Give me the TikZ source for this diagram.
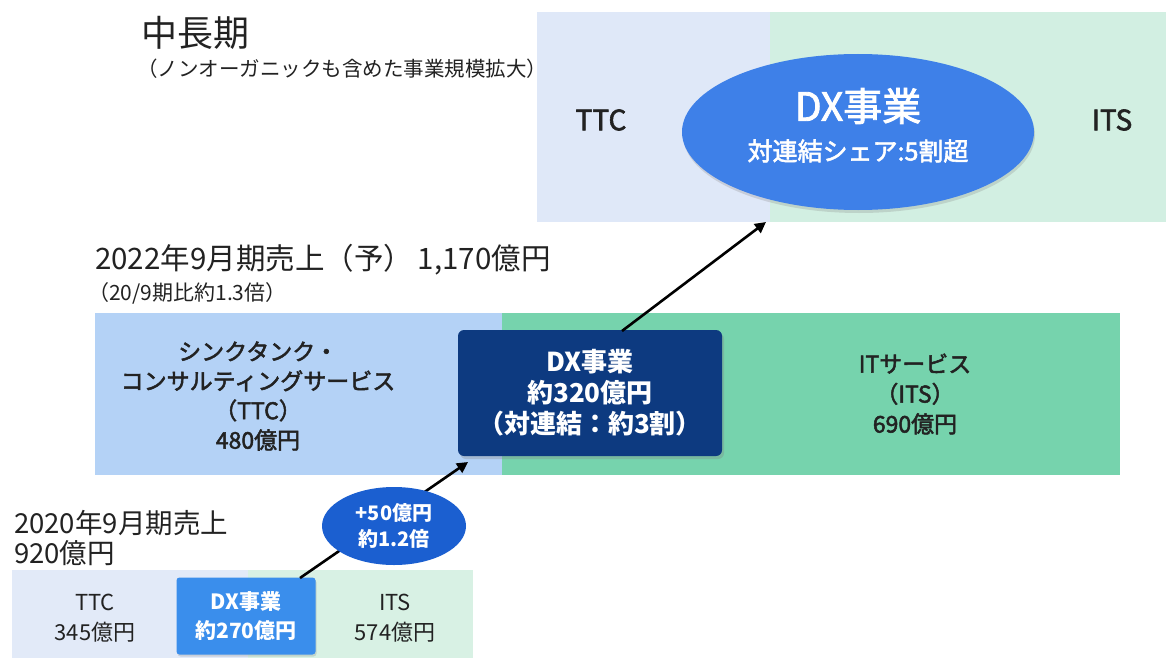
\documentclass[tikz,border=0pt]{standalone}
\usepackage{fontspec}
\setmainfont{Noto Sans CJK JP}
\newfontfamily\medfont[FakeBold=2.2]{Noto Sans CJK JP}
\usetikzlibrary{arrows.meta,shapes.geometric,shadows}
\definecolor{topblue}{HTML}{DFE8F8}
\definecolor{topgreen}{HTML}{D2EFE2}
\definecolor{topell}{HTML}{3E80E8}
\definecolor{midblue}{HTML}{B4D2F6}
\definecolor{midgreen}{HTML}{76D3AD}
\definecolor{midnavy}{HTML}{0D3A80}
\definecolor{botblue}{HTML}{E2EAF8}
\definecolor{botgreen}{HTML}{D8F1E4}
\definecolor{botdx}{HTML}{3A8EEC}
\definecolor{smallell}{HTML}{1B5FD0}
\definecolor{txt}{HTML}{222222}
\tikzset{
  x=1pt, y=-1pt,
  band/.style={inner sep=0pt, outer sep=0pt, anchor=north west},
  lbl/.style={text=txt, inner sep=0pt, anchor=north west, align=left},
  ctr/.style={text=txt, inner sep=0pt, align=center},
  arr/.style={line width=2.6pt, draw=black, -{Triangle[length=11pt,width=11pt]}},
}
\begin{document}
\begin{tikzpicture}
\useasboundingbox (0,0) rectangle (1166,658);
\fill[white] (0,0) rectangle (1166,658);
% top block
\node[band, fill=topblue, minimum width=233pt, minimum height=210pt] (topL) at (537,12) {};
\node[band, fill=topgreen, minimum width=396pt, minimum height=210pt] (topR) at (770,12) {};
\node[ellipse, fill=topell, minimum width=352pt, minimum height=156pt, inner sep=0pt,
      drop shadow={opacity=0.25, shadow xshift=1pt, shadow yshift=-3pt}] (topell) at (858,132) {};
\node[text=white, font=\fontsize{39}{42}\medfont] (topdx) at (858,106) {DX事業};
\node[text=white, font=\fontsize{25}{28}\medfont] (topshare) at (858,151) {対連結シェア:5割超};
\node[ctr, font=\fontsize{28}{32}\medfont] (topttc) at (601,120) {TTC};
\node[ctr, font=\fontsize{28}{32}\medfont] (topits) at (1112,120) {ITS};
\node[lbl, font=\fontsize{36}{40}\selectfont] (title) at (141,16) {中長期};
\node[lbl, font=\fontsize{20.5}{22}\selectfont] (subtitle) at (137,59) {（ノンオーガニックも含めた事業規模拡大）};
% middle block
\node[lbl, font=\fontsize{29.5}{33}\selectfont] (midtitle) at (95,244) {2022年9月期売上（予）\,1,170億円};
\node[lbl, font=\fontsize{21}{24}\selectfont] (midsub) at (88,282) {（20/9期比約1.3倍）};
\node[band, fill=midblue, minimum width=407pt, minimum height=162pt] (midL) at (95,313) {};
\node[band, fill=midgreen, minimum width=618pt, minimum height=162pt] (midR) at (502,313) {};
\node[rectangle, rounded corners=6pt, fill=midnavy, minimum width=264pt, minimum height=126pt,
      drop shadow={opacity=0.3, shadow xshift=2pt, shadow yshift=-3pt}] (middx) at (590,393) {};
\node[text=white, align=center, font=\fontsize{26}{31}\selectfont\bfseries] (middxt) at (590,393)
  {DX事業\\約320億円\\（対連結：約3割）};
\node[ctr, font=\fontsize{23}{29.5}\medfont] (midttc) at (258,396)
  {シンクタンク・\\コンサルティングサービス\\（TTC）\\480億円};
\node[ctr, font=\fontsize{23}{30}\medfont] (midits) at (915,394)
  {ITサービス\\（ITS）\\690億円};
% bottom block
\node[lbl, font=\fontsize{27.5}{30}\selectfont] (bottitle) at (14,510) {2020年9月期売上};
\node[lbl, font=\fontsize{27.5}{30}\selectfont] (botsub) at (14,540) {920億円};
\node[band, fill=botblue, minimum width=236pt, minimum height=88pt] (botL) at (12,570) {};
\node[band, fill=botgreen, minimum width=225pt, minimum height=88pt] (botR) at (248,570) {};
\node[rectangle, rounded corners=3pt, fill=botdx, minimum width=139pt, minimum height=77pt,
      drop shadow={opacity=0.25, shadow xshift=1pt, shadow yshift=-2pt}] (botdx) at (246,616) {};
\node[text=white, align=center, font=\fontsize{21}{29}\selectfont\bfseries] (botdxt) at (246,616) {DX事業\\約270億円};
\node[ctr, font=\fontsize{22}{30}\selectfont] (botttc) at (95,618) {TTC\\345億円};
\node[ctr, font=\fontsize{22}{30}\selectfont] (botits) at (395,618) {ITS\\574億円};
% connectors
\coordinate (a1s) at (300,578);
\coordinate (a1e) at (468,462);
\draw[arr] (a1s) -- (a1e);
\node[ellipse, fill=smallell, minimum width=144pt, minimum height=78pt, inner sep=0pt] (growth) at (394,526) {};
\node[text=white, align=center, font=\fontsize{20}{26}\selectfont\bfseries] (growtht) at (394,526) {+50億円\\約1.2倍};
\coordinate (a2s) at (622,331);
\coordinate (a2e) at (766,222);
\draw[arr] (a2s) -- (a2e);
\end{tikzpicture}
\end{document}
